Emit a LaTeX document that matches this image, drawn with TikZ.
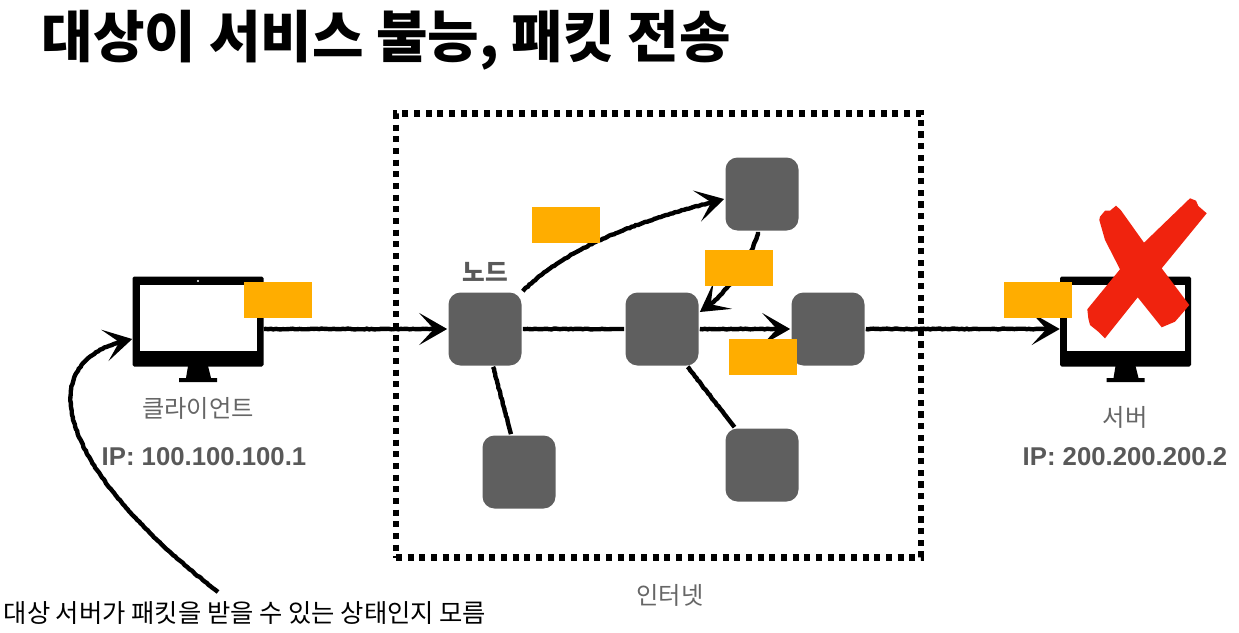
\documentclass[tikz,border=0pt]{standalone}
\usepackage{fontspec}
\setmainfont{Liberation Sans}
\newfontfamily\krfont{Noto Sans CJK KR}
\usepackage{tikz}
\usetikzlibrary{arrows.meta,decorations.pathmorphing}
\definecolor{nodegray}{HTML}{5F5F5F}
\definecolor{labelgray}{HTML}{666666}
\definecolor{ipgray}{HTML}{595959}
\definecolor{packet}{HTML}{FFAD00}
\definecolor{failred}{HTML}{F0230E}
\tikzset{
    netnode/.style={fill=nodegray,rounded corners=9pt,minimum width=54.75pt,
      minimum height=54.75pt,inner sep=0pt,outer sep=1pt},
    packetbox/.style={fill=packet,minimum width=51pt,minimum height=27pt,inner sep=0pt},
    monitorbody/.style={fill=black,rounded corners=1.2pt,minimum width=98.25pt,
      minimum height=67.5pt,inner sep=0pt},
    monitorscreen/.style={fill=white,minimum width=88pt,minimum height=49.5pt,inner sep=0pt},
    netarea/.style={draw=black,line width=4.6pt,dash pattern=on 4.6pt off 4.15pt,
      minimum width=393.75pt,minimum height=333pt,inner sep=0pt},
    sketchline/.style={draw=black,line width=3.3pt,decorate,
      decoration={random steps,segment length=1.8pt,amplitude=.3pt,post length=9pt}},
    sketcharrow/.style={sketchline,-{Stealth[length=21pt,width=24pt,inset=11pt]}},
    hosttext/.style={text=labelgray,font=\krfont\fontsize{18.2}{20}\selectfont},
    iptext/.style={text=ipgray,font=\bfseries\fontsize{19.3}{22}\selectfont}
}
\begin{document}
\begin{tikzpicture}[x=.75pt,y=-.75pt]
  \useasboundingbox (0,0) rectangle (1239,632);
  \node[anchor=west,font=\krfont\bfseries\fontsize{42}{46}\selectfont] (title) at (37,40) {대상이 서비스 불능, 패킷 전송};
  % internet
  \node[netarea] (internet) at (658.5,335.5) {};
  \node[hosttext] (internetlabel) at (670,595) {인터넷};
  % network nodes
  \node[netnode] (n1) at (485,329) {};
  \node[netnode] (n2) at (662,329) {};
  \node[netnode] (n3) at (828,329) {};
  \node[netnode] (n4) at (762,194) {};
  \node[netnode] (n5) at (519,472) {};
  \node[netnode] (n6) at (762,465) {};
  \node[text=ipgray,font=\krfont\bfseries\fontsize{18.5}{20}\selectfont] (nodelabel) at (485,272) {노드};
  % client
  \node[monitorbody] (client) at (198,321.5) {};
  \node[monitorscreen] (clientscreen) at (198.5,318) {};
  \fill[white] (198,281) circle (1.2);
  \fill (188,366) -- (208,366) -- (211,378) -- (217,378) -- (217,382) -- (179,382) -- (179,378) -- (186,378) -- cycle;
  \node[hosttext] (clientlabel) at (198,408) {클라이언트};
  \node[iptext] (clientip) at (204,457) {IP: 100.100.100.1};
  % server
  \node[monitorbody] (server) at (1125.5,321.5) {};
  \node[monitorscreen] (serverscreen) at (1126,318) {};
  \fill (1115.5,366) -- (1135.5,366) -- (1138.5,378) -- (1144.5,378) -- (1144.5,382) -- (1106.5,382) -- (1106.5,378) -- (1113.5,378) -- cycle;
  \node[hosttext] (serverlabel) at (1125,417) {서버};
  \node[iptext] (serverip) at (1125,457) {IP: 200.200.200.2};
  % links
  \draw[sketcharrow] (client.east |- n1) -- (n1.west);
  \draw[sketchline] (n1.east) -- (n2.west);
  \draw[sketcharrow] (n2.east) -- (n3.west);
  \draw[sketcharrow] (n3.east) -- (server.west |- n3);
  \draw[sketcharrow] (n1.north east) .. controls +(50,-50) and +(-70,18) .. (n4.west |- 0,199);
  \draw[sketcharrow] (n4.-96) .. controls +(-5,25) and +(25,-15) .. (n2.north east |- 0,312);
  \draw[sketchline] (n1.-78) -- (n5.102);
  \draw[sketchline] (n2.-56) -- (n6.126);
  \coordinate (notestart) at (218,592);
  \draw[sketcharrow] (notestart) .. controls (60,470) and (25,360) .. (client.west |- 0,339);
  \node[anchor=west,font=\krfont\fontsize{19}{22}\selectfont] (note) at (-1,613) {대상 서버가 패킷을 받을 수 있는 상태인지 모름};
  % packets
  \node[packetbox] (p1) at (278,300) {};
  \node[packetbox] (p2) at (566,225) {};
  \node[packetbox] (p3) at (739,268) {};
  \node[packetbox] (p4) at (763,357) {};
  \node[packetbox] (p5) at (1038,300) {};
  % failed server mark
  \fill[failred] (1100,216.7) -- (1105,210.7) -- (1110,210.7) -- (1116,205.7) -- (1120.7,210) -- (1144,242.7)
    -- (1190,198.3) -- (1196,200.7) -- (1198.3,206) -- (1206.7,213.3) -- (1161.7,268.3) -- (1189.3,305)
    -- (1181.7,314) -- (1175,321.7) -- (1161.7,327.3) -- (1137.7,297.3) -- (1105,338.3) -- (1098.3,331.7)
    -- (1090,325) -- (1088.3,318.3) -- (1087.3,309.3) -- (1120,269.3) -- (1105,240) -- (1099.3,220) -- cycle;
\end{tikzpicture}
\end{document}
